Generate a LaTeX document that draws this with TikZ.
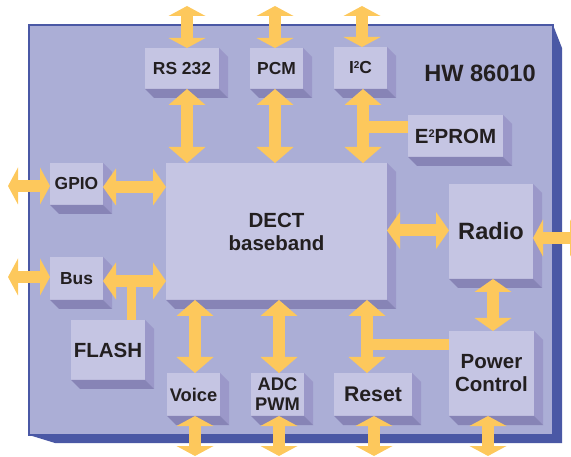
\documentclass[tikz,border=0pt]{standalone}
\usepackage{fontspec}
\setmainfont{Liberation Sans}
\usetikzlibrary{arrows.meta,calc}
\definecolor{face}{RGB}{171,174,214}
\definecolor{darkb}{RGB}{74,88,165}
\definecolor{boxc}{RGB}{197,197,227}
\definecolor{sider}{RGB}{155,152,201}
\definecolor{sideb}{RGB}{135,132,182}
\definecolor{yel}{RGB}{253,200,92}
\definecolor{txt}{RGB}{35,31,32}
\newcommand\fsmall{\fontsize{17.4}{20}\selectfont\bfseries}
\newcommand\fsmallb{\fontsize{18.3}{20}\selectfont\bfseries}
\newcommand\fmid{\fontsize{20.5}{23}\selectfont\bfseries}
\newcommand\freset{\fontsize{21.2}{23}\selectfont\bfseries}
\newcommand\fbig{\fontsize{23.6}{26}\selectfont\bfseries}
\newcommand\mysup[2]{\raisebox{#1}{\fontsize{#2}{#2}\selectfont 2}}
\newcommand\boxdepth[1]{%
  \fill[sider] (#1.north east) -- ([shift={(9,9)}]#1.north east) -- ([shift={(9,9)}]#1.south east) -- (#1.south east) -- cycle;
  \fill[sideb] (#1.south west) -- ([shift={(9,9)}]#1.south west) -- ([shift={(9,9)}]#1.south east) -- (#1.south east) -- cycle;}
\tikzset{
  blk/.style={fill=boxc, inner sep=0pt, outer sep=0pt, anchor=north west, text=txt, align=center},
  fat/.style={draw=yel, line width=12pt,
    arrows={Triangle[width=37pt,length=#1,line width=0pt]-Triangle[width=37pt,length=#1,line width=0pt]}},
  bar/.style={draw=yel, line width=#1}
}
\begin{document}
\begin{tikzpicture}[x=1pt,y=-1pt]
\useasboundingbox (0,0) rectangle (571,457);
% main board
\fill[darkb] (553,25) -- (562,48) -- (562,443) -- (55,443) -- (29,435) -- (553,435) -- cycle;
\filldraw[fill=face, draw=darkb, line width=1.5pt] (29,25) rectangle (553,435);
\node[font=\fbig, text=txt] (hw) at (480,73) {HW 86010};
% blocks
\node[blk, font=\fsmall, minimum width=74pt, minimum height=41pt] (rs) at (145,48) {RS 232};
\node[blk, font=\fsmall, minimum width=53pt, minimum height=41pt] (pcm) at (250,48) {PCM};
\node[blk, font=\fsmall, minimum width=53pt, minimum height=42pt] (i2c) at (334,47) {I\mysup{5pt}{10}C};
\node[blk, font=\fmid, minimum width=95pt, minimum height=42pt] (eprom) at (408,115) {E\mysup{6pt}{11}PROM};
\node[blk, font=\fmid, minimum width=221pt, minimum height=137pt] (dect) at (166,163) {DECT\\baseband};
\node[blk, font=\fbig, minimum width=84pt, minimum height=95pt] (radio) at (449,184) {Radio};
\node[blk, font=\fsmall, minimum width=53pt, minimum height=42pt] (gpio) at (50,163) {GPIO};
\node[blk, font=\fsmall, minimum width=53pt, minimum height=43pt] (bus) at (50,257) {Bus};
\node[blk, font=\fmid, minimum width=74pt, minimum height=60pt] (flash) at (71,320) {FLASH};
\node[blk, font=\fsmallb, minimum width=53pt, minimum height=43pt] (voice) at (167,373) {Voice};
\node[blk, font=\fsmallb, minimum width=53pt, minimum height=43pt] (adc) at (251,373) {ADC\\PWM};
\node[blk, font=\freset, minimum width=78pt, minimum height=43pt] (reset) at (334,373) {Reset};
\node[blk, font=\fmid, minimum width=85pt, minimum height=85pt] (power) at (449,331) {Power\\Control};
\foreach \n in {rs,pcm,i2c,eprom,dect,radio,gpio,bus,flash,voice,adc,reset,power} {\boxdepth{\n}}
% free ends and junctions
\coordinate (rsT) at (187,6);
\coordinate (pcmT) at (275,6);
\coordinate (i2cT) at (362,6);
\coordinate (rsD) at (187,163);
\coordinate (pcmD) at (275,163);
\coordinate (i2cD) at (363,163);
\coordinate (gpioL) at (8,186);
\coordinate (busL) at (8,277);
\coordinate (radioR) at (580,238);
\coordinate (voiceB) at (195,456);
\coordinate (adcB) at (279,456);
\coordinate (resetB) at (374,456);
\coordinate (powerB) at (488,456);
\coordinate (ej) at (363,127);
\coordinate (fj) at (131,281);
\coordinate (rj) at (367,345);
% junction bars
\draw[bar=12pt] (ej) -- (ej -| eprom.west);
\draw[bar=9pt] (fj) -- (fj |- flash.north);
\draw[bar=11pt] (rj) -- (rj -| power.west);
% arrows
\draw[fat=10pt] (rsT) -- (rsT |- rs.north);
\draw[fat=10pt] (pcmT) -- (pcmT |- pcm.north);
\draw[fat=10pt] (i2cT) -- (i2cT |- i2c.north);
\draw[fat=16pt] (rsD |- rs.south) -- (rsD);
\draw[fat=16pt] (pcmD |- pcm.south) -- (pcmD);
\draw[fat=16pt] (i2cD |- i2c.south) -- (i2cD);
\draw[fat=10pt] (gpioL) -- (gpioL -| gpio.west);
\draw[fat=13pt] ([yshift=-3pt]gpio.east) -- ([yshift=-3pt]gpio.east -| dect.west);
\draw[fat=10pt] (busL) -- (busL -| bus.west);
\draw[fat=13pt] (fj -| bus.east) -- (fj -| dect.west);
\draw[fat=13pt] ([yshift=1pt]dect.east) -- ([yshift=1pt]dect.east -| radio.west);
\draw[fat=10pt] (radioR -| radio.east) -- (radioR);
\draw[fat=13pt] ([xshift=2pt]radio.south) -- ([xshift=2pt]radio.south |- power.north);
\draw[fat=16pt] (voiceB |- dect.south) -- (voiceB |- voice.north);
\draw[fat=16pt] (adcB |- dect.south) -- (adcB |- adc.north);
\draw[fat=16pt] (rj |- dect.south) -- (rj |- reset.north);
\draw[fat=10pt] (voiceB |- voice.south) -- (voiceB);
\draw[fat=10pt] (adcB |- adc.south) -- (adcB);
\draw[fat=10pt] (resetB |- reset.south) -- (resetB);
\draw[fat=10pt] (powerB |- power.south) -- (powerB);
\end{tikzpicture}
\end{document}
